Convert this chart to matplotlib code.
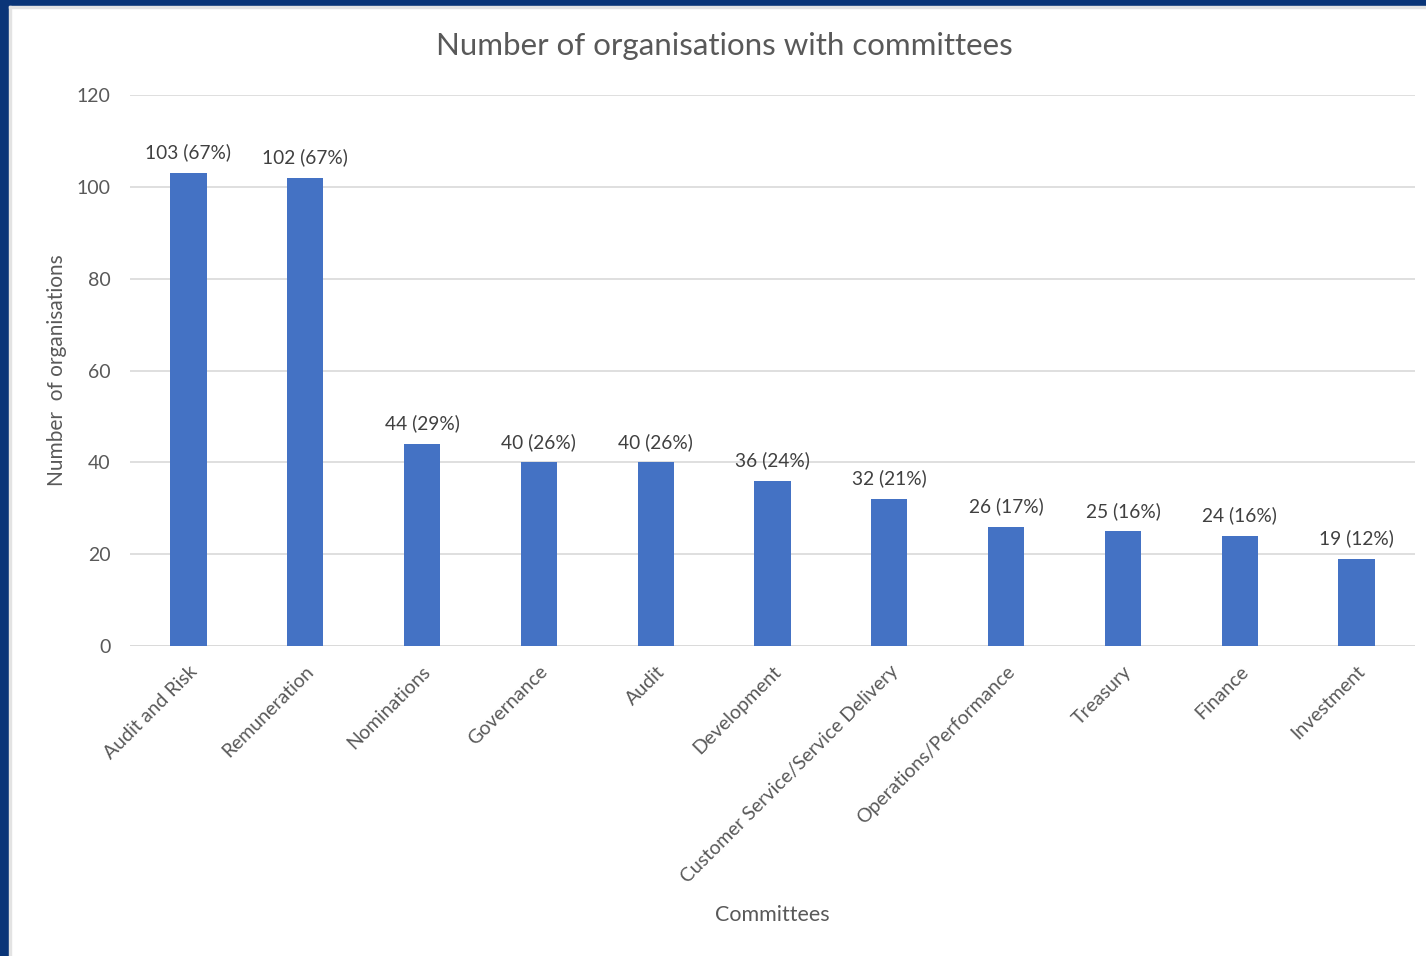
import matplotlib
matplotlib.use('Agg')
import matplotlib.pyplot as plt
from matplotlib.patches import Rectangle

committees = ['Audit and Risk', 'Remuneration', 'Nominations', 'Governance', 'Audit',
              'Development', 'Customer Service/Service Delivery', 'Operations/Performance',
              'Treasury', 'Finance', 'Investment']
counts = [103, 102, 44, 40, 40, 36, 32, 26, 25, 24, 19]
shares = [67, 67, 29, 26, 26, 24, 21, 17, 16, 16, 12]

W, H = 1426, 956
plt.rcParams['font.family'] = ['Lato', 'DejaVu Sans']
grey = '#595959'

fig = plt.figure(figsize=(W / 100, H / 100), dpi=100)
fig.patch.set_facecolor('white')

# dark frame on the left and top edges, with a thin light rim inside
fig.patches.append(Rectangle((0, 0), 9 / W, 1, transform=fig.transFigure,
                             color='#0a3578', zorder=0))
fig.patches.append(Rectangle((0, 1 - 6 / H), 1, 6 / H, transform=fig.transFigure,
                             color='#0a3578', zorder=0))
fig.patches.append(Rectangle((9 / W, 0), 2 / W, 1 - 6 / H, transform=fig.transFigure,
                             color='#e3e3e3', zorder=0))
fig.patches.append(Rectangle((9 / W, 1 - 8 / H), 1 - 9 / W, 2 / H, transform=fig.transFigure,
                             color='#e3e3e3', zorder=0))

ax = fig.add_axes([130 / W, 1 - 646 / H, 1285 / W, 551 / H])
x = range(len(committees))
ax.bar(x, counts, width=0.31, color='#4472C4', zorder=3)

for xi, c, s in zip(x, counts, shares):
    ax.text(xi, c + 2.5, f'{c} ({s}%)', ha='center', va='bottom', fontsize=13.8, color='#404040')

ax.set_xlim(-0.5, len(committees) - 0.5)
ax.set_ylim(0, 120)
ax.set_yticks(range(0, 121, 20))
ax.yaxis.grid(True, color='#d9d9d9', linewidth=1.2, zorder=0)
for sp in ax.spines.values():
    sp.set_visible(False)
ax.axhline(0, color='#d9d9d9', linewidth=1.2, zorder=2)
ax.tick_params(axis='both', length=0, labelsize=14, colors=grey)
ax.tick_params(axis='y', pad=14)
ax.set_xticks(list(x))
ax.set_xticklabels(committees, rotation=45, ha='right', rotation_mode='anchor')
ax.tick_params(axis='x', pad=12)

fig.text(724 / W, 1 - 46 / H, 'Number of organisations with committees',
         fontsize=22.5, color=grey, ha='center', va='center')
ax.set_ylabel('Number  of organisations', fontsize=15, color=grey, va='center')
ax.yaxis.set_label_coords((57 - 130) / 1285, 0.5)
ax.set_xlabel('Committees', fontsize=15.5, color=grey, va='center')
ax.xaxis.set_label_coords(0.5, (646 - 915) / 551)

fig.savefig('out.png', dpi=100, facecolor='white')
